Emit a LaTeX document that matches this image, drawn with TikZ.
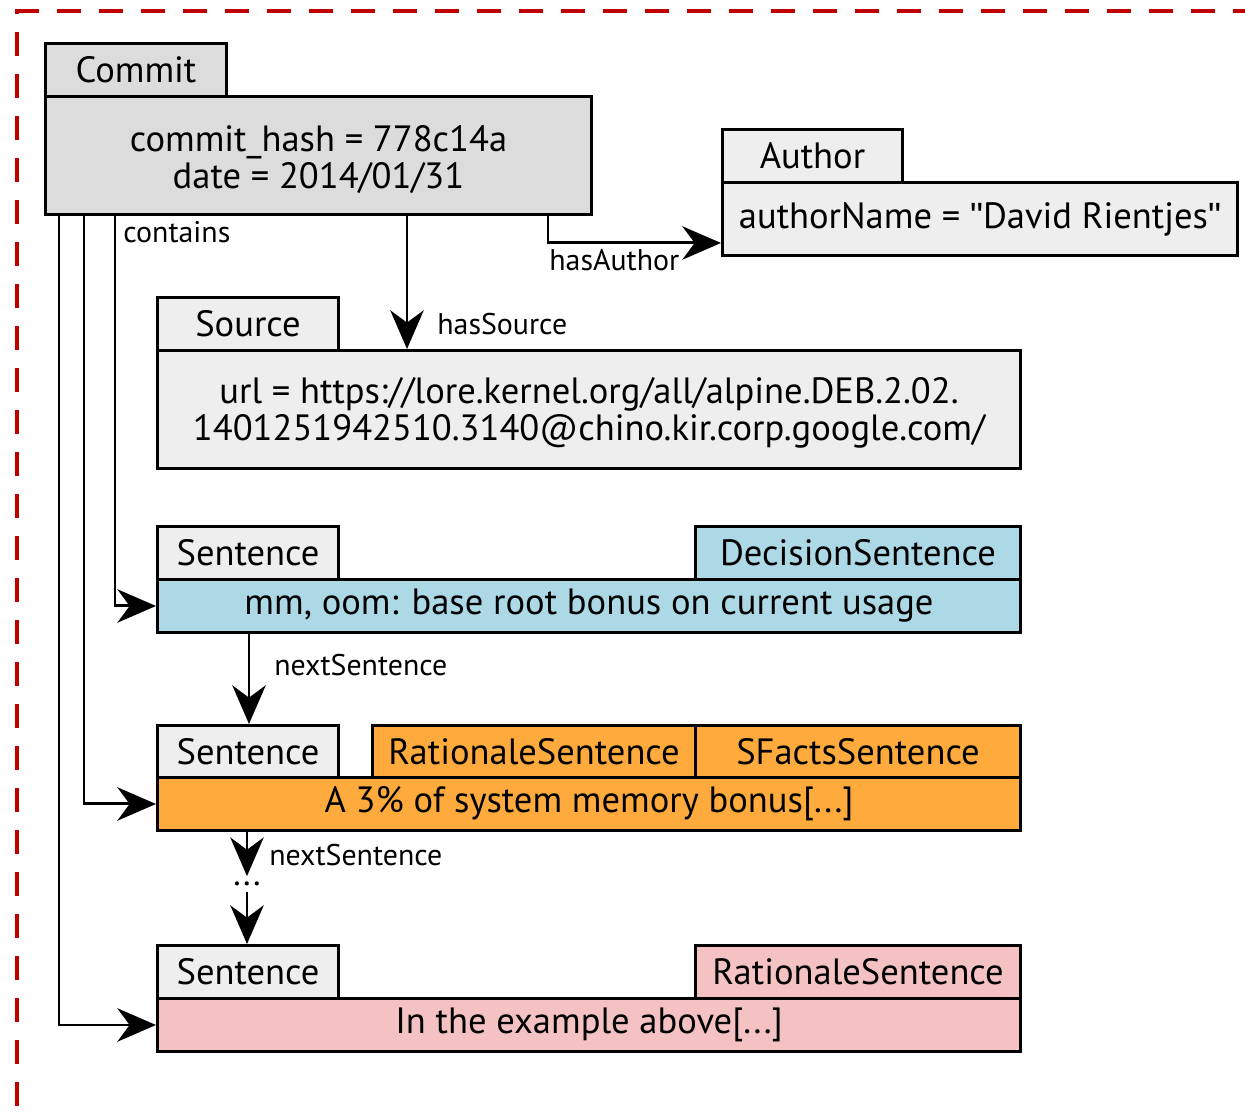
\documentclass[tikz,border=0pt]{standalone}
\usepackage{fontspec}
\setmainfont{PT Sans}[Ligatures=ResetAll]
\newfontfamily\qfont{Liberation Sans}[Ligatures=ResetAll]
\usetikzlibrary{arrows.meta,calc}
\definecolor{cgray}{HTML}{DCDCDC}
\definecolor{lgray}{HTML}{EEEEEE}
\definecolor{cblue}{HTML}{ADD8E6}
\definecolor{corange}{HTML}{FFAA3C}
\definecolor{cpink}{HTML}{F4C2C2}
\definecolor{cred}{HTML}{C00000}
\begin{document}
\begin{tikzpicture}[x=0.02cm,y=-0.02cm,
  box/.style={draw=black,line width=1.7pt,inner sep=0pt,anchor=north west,font=\fontsize{20.8}{22}\selectfont},
  lbl/.style={inner sep=0pt,font=\fontsize{17}{20}\selectfont},
  arr/.style={line width=1.7pt,-{Stealth[length=22pt,width=19pt,inset=7pt]}},
  frame/.style={cred,line width=2.8pt,dash pattern=on 0.48cm off 0.36cm}]
\useasboundingbox (0,0) rectangle (1245,1114);
\clip (0,0) rectangle (1245,1114);
% frame
\draw[frame,dash phase=0cm] (15,11) -- (1260,11);
\draw[frame,dash phase=-0.42cm] (17,11) -- (17,1120);
\draw[frame] (18,1116) -- (1260,1116);
% Commit
\node[box,fill=cgray,minimum width={181*0.02cm},minimum height={53*0.02cm}] (commitTab) at (44,42) {Commit};
\node[box,fill=cgray,minimum width={546*0.02cm},minimum height={118*0.02cm},align=center] (commitBody) at (44,95) {\rule{0pt}{19pt}commit\_hash = 778c14a\\[-1pt]date = 2014/01/31};
% Author
\node[box,fill=lgray,minimum width={180*0.02cm},minimum height={53*0.02cm}] (authorTab) at (721,128) {Author};
\node[box,fill=lgray,minimum width={515*0.02cm},minimum height={73*0.02cm}] (authorBody) at (721,181) {authorName = {\qfont"}David Rientjes{\qfont"}};
% Source
\node[box,fill=lgray,minimum width={181*0.02cm},minimum height={53*0.02cm}] (sourceTab) at (156,296) {Source};
\node[box,fill=lgray,minimum width={863*0.02cm},minimum height={118*0.02cm},align=center] (sourceBody) at (156,349) {\rule{0pt}{19pt}url = https://lore.kernel.org/all/alpine.DEB.2.02.\\[-1pt]1401251942510.3140@chino.kir.corp.google.com/};
% Sentence 1
\node[box,fill=lgray,minimum width={181*0.02cm},minimum height={53*0.02cm}] (s1Tab) at (156,525) {Sentence};
\node[box,fill=cblue,minimum width={325*0.02cm},minimum height={53*0.02cm}] (s1Type) at (694,525) {DecisionSentence};
\node[box,fill=cblue,minimum width={863*0.02cm},minimum height={53*0.02cm}] (s1Body) at (156,578) {mm, oom: base root bonus on current usage};
% Sentence 2
\node[box,fill=lgray,minimum width={181*0.02cm},minimum height={53*0.02cm}] (s2Tab) at (156,724) {Sentence};
\node[box,fill=corange,minimum width={323*0.02cm},minimum height={53*0.02cm}] (s2TypeA) at (371,724) {RationaleSentence};
\node[box,fill=corange,minimum width={325*0.02cm},minimum height={53*0.02cm}] (s2TypeB) at (694,724) {SFactsSentence};
\node[box,fill=corange,minimum width={863*0.02cm},minimum height={53*0.02cm}] (s2Body) at (156,776) {A 3\% of system memory bonus[...]};
% Sentence 3
\node[box,fill=lgray,minimum width={181*0.02cm},minimum height={53*0.02cm}] (s3Tab) at (156,944) {Sentence};
\node[box,fill=cpink,minimum width={325*0.02cm},minimum height={53*0.02cm}] (s3Type) at (694,944) {RationaleSentence};
\node[box,fill=cpink,minimum width={863*0.02cm},minimum height={53*0.02cm}] (s3Body) at (156,997) {In the example above[...]};
% dots
\node[inner sep=0pt,font=\fontsize{20}{20}\selectfont,minimum height=0.3cm] (dots) at (247,884) {...};
% connectors
\draw[arr] (commitBody.south -| 548,0) |- ([yshift=0.28cm]authorBody.south west);
\draw[arr] (commitBody.south -| 407,0) -- (sourceBody.north -| 407,0);
\draw[arr] (commitBody.south -| 115,0) |- (s1Body.west);
\draw[arr] (commitBody.south -| 84,0) |- (s2Body.west);
\draw[arr] (commitBody.south -| 59,0) |- (s3Body.west);
\draw[arr] (s1Body.south -| 249,0) -- (s2Tab.north -| 249,0);
\draw[arr] (s2Body.south -| 247,0) -- (dots.north -| 247,0);
\draw[arr] (dots.south -| 247,0) -- (s3Tab.north -| 247,0);
% labels
\node[lbl,anchor=west] (lContains) at (123,232) {contains};
\node[lbl,anchor=west] (lAuthor) at (549,260) {hasAuthor};
\node[lbl,anchor=west] (lSource) at (437,324) {hasSource};
\node[lbl,anchor=west] (lNext1) at (274,665) {nextSentence};
\node[lbl,anchor=west] (lNext2) at (269,855) {nextSentence};
\end{tikzpicture}
\end{document}
